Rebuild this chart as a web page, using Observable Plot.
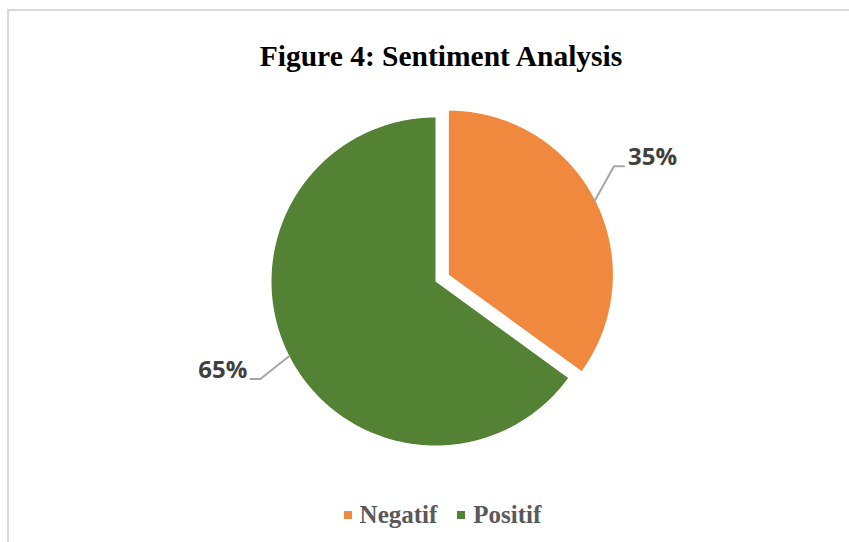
<!DOCTYPE html>
<html>
<head>
<meta charset="utf-8">
<script src="https://cdn.jsdelivr.net/npm/d3@7"></script>
<script src="https://cdn.jsdelivr.net/npm/@observablehq/plot@0.6"></script>
<style>
  html, body { margin: 0; padding: 0; background: #fff; }
  #wrap { position: relative; width: 849px; height: 542px; overflow: hidden; background: #fff; }
  #frame { position: absolute; left: 7px; top: 9px; width: 900px; height: 600px; border: 2px solid #D9D9D9; box-sizing: border-box; }
  #title { position: absolute; left: 0; top: 42px; width: 882px; text-align: center;
           font-family: "Liberation Serif", "Times New Roman", serif; font-weight: bold; font-size: 29.5px; line-height: 29px; color: #000; }
  #plot { position: absolute; left: 0; top: 0; }
  #legend { position: absolute; left: 0; top: 501px; width: 885px; display: flex; justify-content: center; align-items: center;
            font-family: "Liberation Serif", "Times New Roman", serif; font-weight: bold; font-size: 25px; line-height: 28px; color: #595959; }
  .item { display: flex; align-items: center; margin: 0 10px; }
  .sw { width: 8px; height: 8px; margin-right: 8px; }
</style>
</head>
<body>
<div id="wrap">
  <div id="frame"></div>
  <div id="plot"></div>
  <div id="title">Figure 4: Sentiment Analysis</div>
  <div id="legend"></div>
</div>
<script>
// ---- data ----
const categories = ["Negatif", "Positif"];
const values = [35, 65];
const labels = ["35%", "65%"];
const colors = ["#F0883E", "#548235"];

// ---- layout (pixels) ----
const W = 849, H = 542;
const CX = 435, CY = 281, R = 164;
const explode = [15, 0];
// label layout: elbow offset (pixels, y down) from arc midpoint, horizontal tail, text side
const labelLayout = [
  { elbow: [19, -34], tail: 10, anchor: "start", dy: 9 },
  { elbow: [-29, 23], tail: -10, anchor: "end", dy: 9 }
];

const total = d3.sum(values);
let acc = 0;
const slices = categories.map((c, i) => {
  const a0 = acc / total * 2 * Math.PI;
  acc += values[i];
  const a1 = acc / total * 2 * Math.PI;
  const mid = (a0 + a1) / 2;
  const ox = explode[i] * Math.sin(mid), oy = explode[i] * Math.cos(mid);
  return { category: c, value: values[i], label: labels[i], color: colors[i], a0, a1, mid, ox, oy };
});

// polygon points for each slice (y up)
const polyPts = [];
slices.forEach(s => {
  polyPts.push({ cat: s.category, x: s.ox, y: s.oy });
  const n = Math.ceil((s.a1 - s.a0) / (Math.PI / 360));
  for (let k = 0; k <= n; k++) {
    const a = s.a0 + (s.a1 - s.a0) * k / n;
    polyPts.push({ cat: s.category, x: s.ox + R * Math.sin(a), y: s.oy + R * Math.cos(a) });
  }
  polyPts.push({ cat: s.category, x: s.ox, y: s.oy });
});

// leader lines and label positions
const leaderPts = [];
const textPts = [];
slices.forEach((s, i) => {
  const L = labelLayout[i];
  const sx = s.ox + R * Math.sin(s.mid), sy = s.oy + R * Math.cos(s.mid);
  const ex = sx + L.elbow[0], ey = sy - L.elbow[1];
  const tx = ex + L.tail, ty = ey;
  leaderPts.push({ cat: s.category, x: sx, y: sy }, { cat: s.category, x: ex, y: ey }, { cat: s.category, x: tx, y: ty });
  textPts.push({ label: s.label, x: tx + (L.anchor === "start" ? 4 : -3), y: ty + L.dy, anchor: L.anchor });
});

const chart = Plot.plot({
  width: W, height: H,
  margin: 0,
  x: { domain: [-CX, W - CX], axis: null },
  y: { domain: [-(H - CY), CY], axis: null },
  color: { domain: categories, range: colors },
  marks: [
    Plot.line(polyPts, { x: "x", y: "y", z: "cat", fill: "cat", stroke: "none", curve: "linear" }),
    Plot.line(leaderPts, { x: "x", y: "y", z: "cat", stroke: "#A6A6A6", strokeWidth: 2, curve: "linear" }),
    Plot.text(textPts.filter(d => d.anchor === "start"), { x: "x", y: "y", text: "label", textAnchor: "start",
      fontFamily: "Open Sans", fontWeight: "bold", fontSize: 24, fill: "#404040" }),
    Plot.text(textPts.filter(d => d.anchor === "end"), { x: "x", y: "y", text: "label", textAnchor: "end",
      fontFamily: "Open Sans", fontWeight: "bold", fontSize: 24, fill: "#404040" })
  ]
});
document.getElementById("plot").appendChild(chart);

const legend = document.getElementById("legend");
categories.forEach((c, i) => {
  const it = document.createElement("div");
  it.className = "item";
  const sw = document.createElement("div");
  sw.className = "sw";
  sw.style.background = colors[i];
  const t = document.createElement("span");
  t.textContent = c;
  it.appendChild(sw); it.appendChild(t);
  legend.appendChild(it);
});
</script>
</body>
</html>
